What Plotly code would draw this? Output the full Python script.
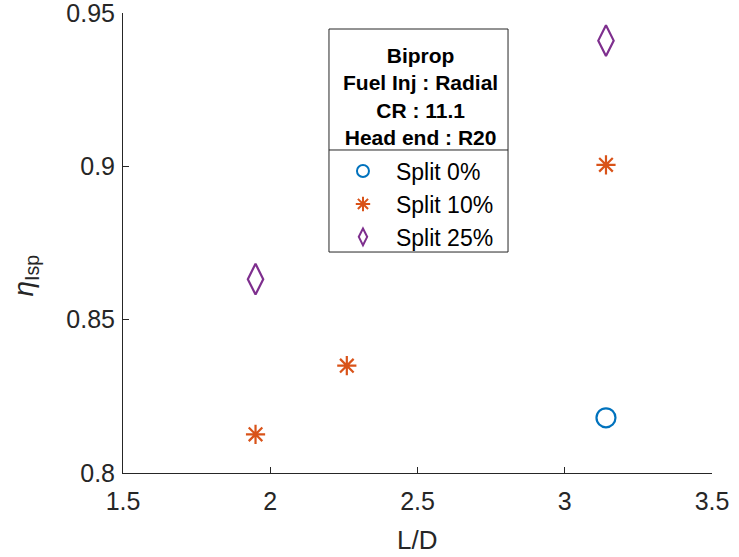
import plotly.graph_objects as go

# Data
series_names = ["Split 0%", "Split 10%", "Split 25%"]
x_split0 = [3.14]
y_split0 = [0.818]
x_split10 = [1.95, 2.26, 3.14]
y_split10 = [0.8126, 0.835, 0.9005]
x_split25 = [1.95, 3.14]
y_split25 = [0.8632, 0.941]
colors = ["#0072BD", "#D95319", "#7E2F8E"]
symbols = ["circle-open", "asterisk-open", "diamond-tall-open"]
sizes = [19, 16, 22]
x_ticks = [1.5, 2, 2.5, 3, 3.5]
y_ticks = [0.8, 0.85, 0.9, 0.95]
legend_title_lines = ["Biprop", "Fuel Inj : Radial", "CR : 11.1", "Head end : R20"]
x_title = "L/D"
y_title = "<i>η</i><sub>Isp</sub>"

fig = go.Figure()
for i, (name, xs, ys, c, s, sz) in enumerate(zip(series_names,
                                  [x_split0, x_split10, x_split25],
                                  [y_split0, y_split10, y_split25],
                                  colors, symbols, sizes)):
    fig.add_trace(go.Scatter(x=xs, y=ys, mode="markers", name=name,
                             legendgroup=f"g{i}",
                             marker=dict(symbol=s, size=sz, color=c,
                                         line=dict(color=c, width=2.2))))

axis_col = "#262626"
fig.update_layout(
    width=739, height=557,
    margin=dict(l=123, r=27, t=13, b=84),
    paper_bgcolor="white", plot_bgcolor="white",
    font=dict(family="Arial", size=25, color=axis_col),
    xaxis=dict(range=[1.49999, 3.50001], tickvals=x_ticks, ticktext=[f"{v:g}" for v in x_ticks],
               showline=True, linecolor=axis_col, linewidth=1, ticks="inside",
               ticklen=6, tickcolor=axis_col, showgrid=False, zeroline=False,
               automargin=False, ticklabelstandoff=6, ticklabeloverflow="allow"),
    yaxis=dict(range=[0.79999, 0.95001], tickvals=y_ticks, ticktext=[f"{v:g}" for v in y_ticks],
               showline=True, linecolor=axis_col, linewidth=1, ticks="inside",
               ticklen=6, tickcolor=axis_col, showgrid=False, zeroline=False,
               automargin=False, ticklabelstandoff=2, ticklabeloverflow="allow"),
    legend=dict(x=0.3514, y=0.703, xanchor="left", yanchor="top",
                bgcolor="rgba(0,0,0,0)", borderwidth=0,
                font=dict(size=23, color="#000000"),
                tracegroupgap=0, itemsizing="constant", itemwidth=56),
)
# legend frame and header
fig.add_shape(type="rect", xref="paper", yref="paper",
              x0=0.3497, x1=0.6537, y0=0.4804, y1=0.9652,
              line=dict(color=axis_col, width=1), fillcolor="white", layer="below")
fig.add_shape(type="line", xref="paper", yref="paper",
              x0=0.3497, x1=0.6537, y0=0.7022, y1=0.7022,
              line=dict(color=axis_col, width=1))
fig.add_annotation(xref="paper", yref="paper", x=0.5047, y=0.8187,
                   xanchor="center", yanchor="middle", showarrow=False,
                   text="<br>".join(f"<b>{t}</b>" for t in legend_title_lines),
                   font=dict(size=21, color="#000000"))
# axis titles
fig.add_annotation(xref="paper", yref="paper", x=0.4992, y=-0.1457,
                   xanchor="center", yanchor="middle", showarrow=False,
                   text=x_title, font=dict(size=26, color=axis_col))
fig.add_annotation(xref="paper", yref="paper", x=-0.166, y=0.43,
                   xanchor="center", yanchor="middle", showarrow=False,
                   textangle=-90, text=y_title, font=dict(size=28, color=axis_col))
fig.write_html("out.html")
